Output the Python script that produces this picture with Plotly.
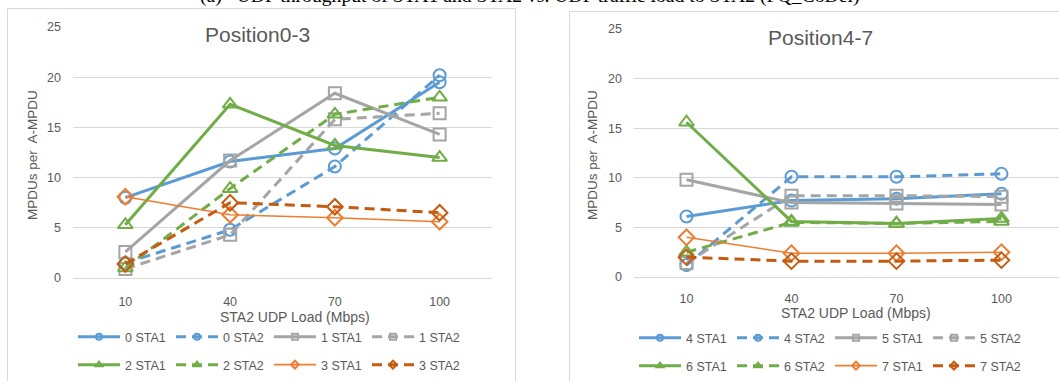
import plotly.graph_objects as go

W, H = 1059, 381

loads = ["10", "40", "70", "100"]
y_ticks = [0, 5, 10, 15, 20, 25]

# Position0-3 : MPDUs per A-MPDU
p0_sta1 = [8.0, 11.6, 12.9, 19.5]
p0_sta2 = [1.5, 4.8, 11.1, 20.2]
p1_sta1 = [2.6, 11.7, 18.4, 14.3]
p1_sta2 = [0.9, 4.3, 15.8, 16.4]
p2_sta1 = [5.3, 17.3, 13.2, 12.0]
p2_sta2 = [1.0, 8.9, 16.3, 18.0]
p3_sta1 = [8.1, 6.3, 6.0, 5.6]
p3_sta2 = [1.4, 7.5, 7.1, 6.5]

# Position4-7 : MPDUs per A-MPDU
p4_sta1 = [6.1, 7.7, 7.9, 8.4]
p4_sta2 = [1.2, 10.1, 10.1, 10.4]
p5_sta1 = [9.8, 7.5, 7.4, 7.3]
p5_sta2 = [1.4, 8.2, 8.2, 8.1]
p6_sta1 = [15.6, 5.6, 5.4, 5.9]
p6_sta2 = [2.5, 5.5, 5.4, 5.6]
p7_sta1 = [4.0, 2.4, 2.4, 2.5]
p7_sta2 = [2.0, 1.6, 1.6, 1.7]

BLUE, GRAY, GREEN, ORANGE, BROWN = "#5B9BD5", "#A5A5A5", "#70AD47", "#ED7D31", "#C55A11"
TXT = "#595959"
GRID = "#D9D9D9"
FONT = "Liberation Sans"
DASH = "10px,6px"


def px_x(px):
    return px / W


def px_y(py):
    return (H - py) / H


# (name, values, colour, symbol, dash, line width, axis suffix, legend id)
series = [
    ("0 STA1", p0_sta1, BLUE, "circle", "solid", 3, "", "legend"),
    ("0 STA2", p0_sta2, BLUE, "circle", DASH, 3, "", "legend"),
    ("1 STA1", p1_sta1, GRAY, "square", "solid", 3, "", "legend"),
    ("1 STA2", p1_sta2, GRAY, "square", DASH, 3, "", "legend"),
    ("2 STA1", p2_sta1, GREEN, "triangle-up", "solid", 3, "", "legend2"),
    ("2 STA2", p2_sta2, GREEN, "triangle-up", DASH, 3, "", "legend2"),
    ("3 STA1", p3_sta1, ORANGE, "diamond", "solid", 1.6, "", "legend2"),
    ("3 STA2", p3_sta2, BROWN, "diamond", DASH, 3, "", "legend2"),
    ("4 STA1", p4_sta1, BLUE, "circle", "solid", 3, "2", "legend3"),
    ("4 STA2", p4_sta2, BLUE, "circle", DASH, 3, "2", "legend3"),
    ("5 STA1", p5_sta1, GRAY, "square", "solid", 3, "2", "legend3"),
    ("5 STA2", p5_sta2, GRAY, "square", DASH, 3, "2", "legend3"),
    ("6 STA1", p6_sta1, GREEN, "triangle-up", "solid", 3, "2", "legend4"),
    ("6 STA2", p6_sta2, GREEN, "triangle-up", DASH, 3, "2", "legend4"),
    ("7 STA1", p7_sta1, ORANGE, "diamond", "solid", 1.6, "2", "legend4"),
    ("7 STA2", p7_sta2, BROWN, "diamond", DASH, 3, "2", "legend4"),
]

fig = go.Figure()

for name, vals, col, sym, dash, lw, ax, leg in series:
    size = 13 if sym == "triangle-up" else 12
    fig.add_trace(go.Scatter(
        x=loads, y=vals, mode="lines+markers", name=name,
        xaxis="x" + ax, yaxis="y" + ax, showlegend=False,
        line=dict(color=col, width=lw, dash=dash),
        marker=dict(symbol=sym + "-open", size=size, color=col,
                    line=dict(color=col, width=2)),
        hoverinfo="x+y+name",
    ))

# legend keys with small markers
for name, vals, col, sym, dash, lw, ax, leg in series:
    fig.add_trace(go.Scatter(
        x=[None], y=[None], mode="lines+markers", name=name,
        xaxis="x" + ax, yaxis="y" + ax, legend=leg, showlegend=True,
        line=dict(color=col, width=lw, dash=dash),
        marker=dict(symbol=sym + "-open", size=6, color=col,
                    line=dict(color=col, width=2)),
    ))

axis_font = dict(family=FONT, size=12.5, color=TXT)


def xaxis(d0, d1, r1, anchor, standoff):
    return dict(
        type="category", categoryorder="array", categoryarray=loads,
        domain=[px_x(d0), px_x(d1)], range=[-0.5, r1], anchor=anchor,
        showgrid=False, zeroline=False, showline=False,
        ticks="", ticklabelstandoff=standoff,
        tickfont=axis_font, fixedrange=True, automargin=False,
    )


def yaxis(top, bottom, anchor):
    return dict(
        domain=[px_y(bottom), px_y(top)], range=[0, 25], anchor=anchor,
        tickvals=y_ticks, showgrid=True, gridcolor=GRID, gridwidth=1,
        zeroline=True, zerolinecolor=GRID, zerolinewidth=1, showline=False,
        ticks="", ticklabelstandoff=11,
        tickfont=axis_font, fixedrange=True, automargin=False,
    )


legend_common = dict(
    orientation="h", xanchor="left", yanchor="middle",
    entrywidth=41, entrywidthmode="pixels", itemwidth=42,
    font=dict(family=FONT, size=12.5, color=TXT),
    bgcolor="rgba(0,0,0,0)", borderwidth=0, traceorder="normal",
    tracegroupgap=0, itemclick=False, itemdoubleclick=False,
)

annotations = [
    dict(text="(a)\u00a0\u00a0 UDP throughput of STA1 and STA2 vs. UDP traffic load to STA2 (FQ_CoDel)",
         x=0.5, y=px_y(-4), xref="paper", yref="paper", xanchor="center", yanchor="middle",
         showarrow=False, font=dict(family="Liberation Serif", size=19.7, color="#000000")),
    dict(text="Position0-3", x=px_x(257), y=px_y(34), xref="paper", yref="paper",
         xanchor="center", yanchor="middle", showarrow=False,
         font=dict(family=FONT, size=21, color=TXT)),
    dict(text="Position4-7", x=px_x(820), y=px_y(38), xref="paper", yref="paper",
         xanchor="center", yanchor="middle", showarrow=False,
         font=dict(family=FONT, size=21, color=TXT)),
    dict(text="MPDUs per\u00a0 A-MPDU", x=px_x(32), y=px_y(155), xref="paper", yref="paper",
         xanchor="center", yanchor="middle", textangle=-90, showarrow=False,
         font=dict(family=FONT, size=13.5, color=TXT)),
    dict(text="MPDUs per\u00a0 A-MPDU", x=px_x(592), y=px_y(155), xref="paper", yref="paper",
         xanchor="center", yanchor="middle", textangle=-90, showarrow=False,
         font=dict(family=FONT, size=13.5, color=TXT)),
    dict(text="STA2 UDP Load (Mbps)", x=px_x(294.5), y=px_y(317), xref="paper", yref="paper",
         xanchor="center", yanchor="middle", showarrow=False,
         font=dict(family=FONT, size=14, color=TXT)),
    dict(text="STA2 UDP Load (Mbps)", x=px_x(855.5), y=px_y(313), xref="paper", yref="paper",
         xanchor="center", yanchor="middle", showarrow=False,
         font=dict(family=FONT, size=14, color=TXT)),
]

shapes = [
    dict(type="rect", xref="paper", yref="paper", layer="below",
         x0=px_x(7.5), x1=px_x(515.5), y0=px_y(400), y1=px_y(8.5),
         line=dict(color=GRID, width=1), fillcolor="rgba(0,0,0,0)"),
    dict(type="rect", xref="paper", yref="paper", layer="below",
         x0=px_x(569.5), x1=px_x(1080), y0=px_y(400), y1=px_y(11.5),
         line=dict(color=GRID, width=1), fillcolor="rgba(0,0,0,0)"),
]

fig.update_layout(
    width=W, height=H, autosize=False,
    margin=dict(l=0, r=0, t=0, b=0, pad=0, autoexpand=False),
    paper_bgcolor="white", plot_bgcolor="rgba(0,0,0,0)",
    xaxis=xaxis(73, 492, 3.5, "y", 14),
    yaxis=yaxis(27, 278, "x"),
    xaxis2=xaxis(634, 1059, 3.548, "y2", 12),
    yaxis2=yaxis(29, 277, "x2"),
    legend=dict(legend_common, x=px_x(73), y=px_y(337)),
    legend2=dict(legend_common, x=px_x(73), y=px_y(365)),
    legend3=dict(legend_common, x=px_x(634), y=px_y(338)),
    legend4=dict(legend_common, x=px_x(634), y=px_y(366)),
    annotations=annotations,
    shapes=shapes,
    hovermode="closest",
)

fig.write_html("out.html", config={"displayModeBar": False})
